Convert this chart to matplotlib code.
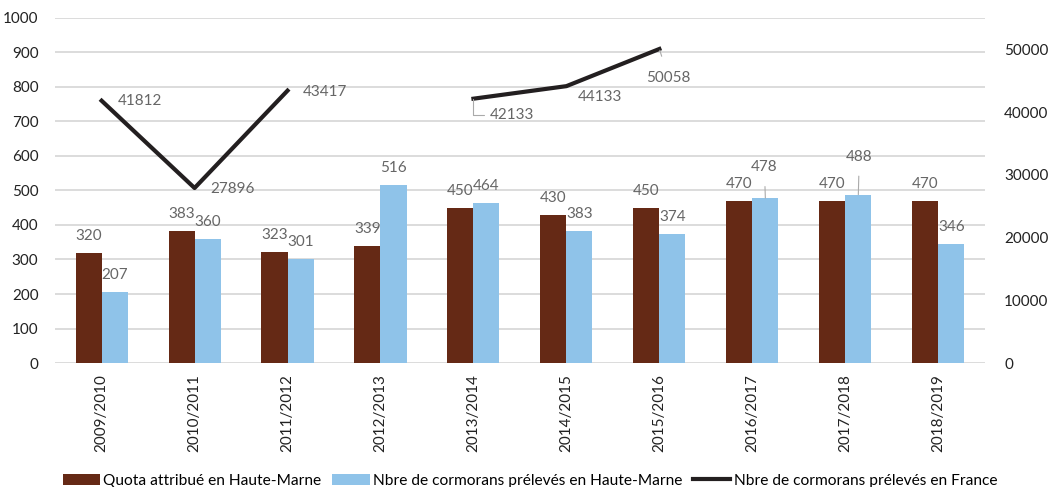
import matplotlib
matplotlib.use("Agg")
import matplotlib.pyplot as plt
import numpy as np

plt.rcParams['font.family'] = ['Lato', 'DejaVu Sans']

saisons = ['2009/2010', '2010/2011', '2011/2012', '2012/2013', '2013/2014',
           '2014/2015', '2015/2016', '2016/2017', '2017/2018', '2018/2019']
quota = [320, 383, 323, 339, 450, 430, 450, 470, 470, 470]
preleves_hm = [207, 360, 301, 516, 464, 383, 374, 478, 488, 346]
preleves_fr = [41812, 27896, 43417, np.nan, 42133, 44133, 50058, np.nan, np.nan, np.nan]

brun = '#652915'
bleu = '#8fc3e9'
noir = '#231f20'
gris = '#666666'

fig = plt.figure(figsize=(10.6, 4.87), dpi=100)
ax = fig.add_axes([0.052, 0.2546, 0.877, 0.7085])
ax2 = ax.twinx()

x = np.arange(len(saisons))
w = 0.28
b1 = ax.bar(x - w / 2, quota, w, color=brun, label='Quota attribué en Haute-Marne', zorder=2)
b2 = ax.bar(x + w / 2, preleves_hm, w, color=bleu, label='Nbre de cormorans prélevés en Haute-Marne', zorder=2)
l1, = ax2.plot(x, preleves_fr, color=noir, lw=3, label='Nbre de cormorans prélevés en France')

ax.set_xlim(-0.5, len(saisons) - 0.5)
ax.set_ylim(0, 1000)
ax.set_yticks(range(0, 1001, 100))
ax2.set_ylim(0, 55000)
ax2.set_yticks(range(0, 50001, 10000))

ax.yaxis.grid(True, color='#d9d9d9', lw=1.3, zorder=0)
ax.set_axisbelow(True)
for a in (ax, ax2):
    for s in a.spines.values():
        s.set_visible(False)
ax.tick_params(axis='y', length=0, pad=12, labelsize=11, labelcolor='#222222')
ax2.tick_params(axis='y', length=0, pad=14, labelsize=11, labelcolor='#222222')
ax.set_xticks(x)
ax.set_xticklabels(saisons, rotation=90, fontsize=11, color='#222222')
ax.tick_params(axis='x', length=0, pad=8)

px = 0.72  # pixels -> points

# étiquettes des barres
lab = dict(fontsize=11, color=gris, ha='center', va='center')
for i in range(len(saisons)):
    ax.annotate(str(quota[i]), (x[i] - w / 2, quota[i]), xytext=(0, 17 * px),
                textcoords='offset points', **lab)
    if preleves_hm[i] == 478:
        ax.annotate('478', (x[i] + w / 2, preleves_hm[i]), xytext=(-1 * px, 31 * px),
                    textcoords='offset points',
                    arrowprops=dict(arrowstyle='-', color='#aaaaaa', lw=0.8, shrinkA=7, shrinkB=0),
                    **lab)
    elif preleves_hm[i] == 488:
        ax.annotate('488', (x[i] + w / 2, preleves_hm[i]), xytext=(1 * px, 38 * px),
                    textcoords='offset points',
                    arrowprops=dict(arrowstyle='-', color='#aaaaaa', lw=0.8, shrinkA=7, shrinkB=0),
                    **lab)
    else:
        ax.annotate(str(preleves_hm[i]), (x[i] + w / 2, preleves_hm[i]), xytext=(0, 17 * px),
                    textcoords='offset points', **lab)

# étiquettes de la courbe France (décalages en pixels)
offsets = {0: (16, 0), 1: (16, -1), 2: (15, -1), 4: (16, -16), 5: (11, -11), 6: (-13, -29)}
for i, (dx, dy) in offsets.items():
    kw = dict(fontsize=11, color=gris, ha='left', va='center')
    if i == 4:
        ax2.annotate(f'{int(preleves_fr[i])}', (x[i], preleves_fr[i]), xytext=(dx * px, dy * px),
                     textcoords='offset points',
                     arrowprops=dict(arrowstyle='-', color='#aaaaaa', lw=0.8, shrinkA=2, shrinkB=0,
                                     connectionstyle='angle,angleA=0,angleB=90'),
                     **kw)
    elif i == 6:
        ax2.annotate(f'{int(preleves_fr[i])}', (x[i], preleves_fr[i]), xytext=(dx * px, dy * px),
                     textcoords='offset points',
                     arrowprops=dict(arrowstyle='-', color='#aaaaaa', lw=0.8, shrinkA=9, shrinkB=1),
                     **kw)
    else:
        ax2.annotate(f'{int(preleves_fr[i])}', (x[i], preleves_fr[i]), xytext=(dx * px, dy * px),
                     textcoords='offset points', **kw)

fig.legend(handles=[b1, b2, l1], loc='lower center', ncol=3, frameon=False,
           bbox_to_anchor=(0.5, -0.03), fontsize=11.2, handlelength=2.4,
           handletextpad=0.2, columnspacing=0.7)

fig.savefig('out.png', dpi=100)
